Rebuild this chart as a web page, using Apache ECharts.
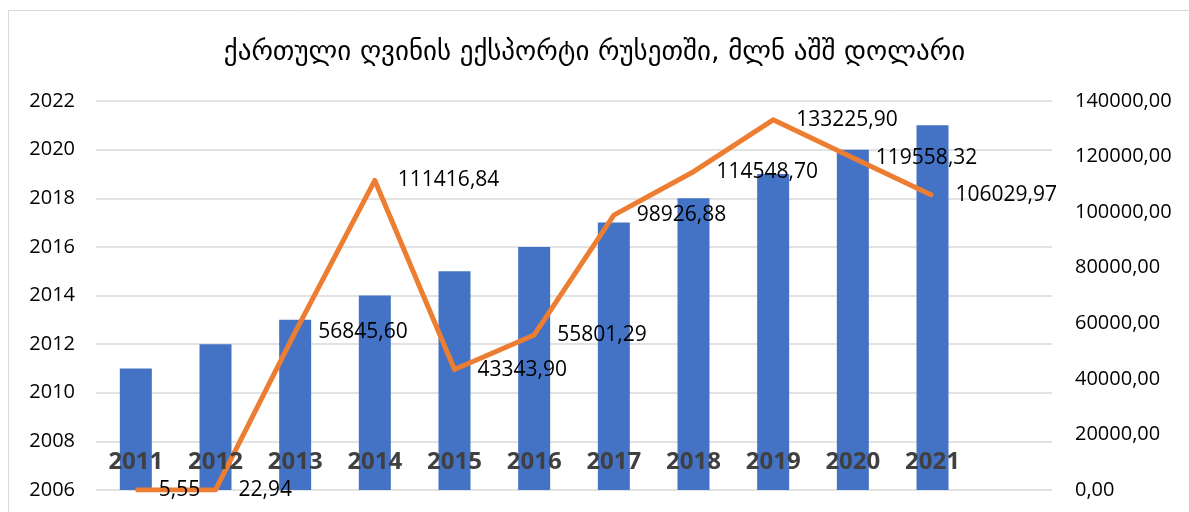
<!DOCTYPE html>
<html>
<head>
<meta charset="utf-8">
<script src="https://cdn.jsdelivr.net/npm/echarts@6/dist/echarts.min.js"></script>
<style>
  html, body { margin: 0; padding: 0; background: #fff; }
  #chart { width: 1189px; height: 512px; }
</style>
</head>
<body>
<div id="chart"></div>
<script>
// წლები (ბოლო ცარიელი კატეგორია, როგორც ორიგინალში)
var years = ['2011', '2012', '2013', '2014', '2015', '2016', '2017', '2018', '2019', '2020', '2021', ''];
var yearBars = [2011, 2012, 2013, 2014, 2015, 2016, 2017, 2018, 2019, 2020, 2021, null];
var exportValues = [5.55, 22.94, 56845.60, 111416.84, 43343.90, 55801.29, 98926.88, 114548.70, 133225.90, 119558.32, 106029.97, null];

var fmt = function (v) { return v.toFixed(2).replace('.', ','); };

var chart = echarts.init(document.getElementById('chart'));

var option = {
  animation: false,
  title: {
    text: 'ქართული ღვინის ექსპორტი რუსეთში, მლნ აშშ დოლარი',
    left: 'center',
    top: 34,
    textStyle: { fontFamily: 'DejaVu Sans', fontWeight: 'normal', fontSize: 27, color: '#000' }
  },
  graphic: [{
    type: 'rect',
    shape: { x: 8.5, y: 10.5, width: 1200, height: 600 },
    style: { fill: 'none', stroke: '#d9d9d9', lineWidth: 1 },
    silent: true
  }],
  grid: { left: 96, right: 137, top: 101, bottom: 22 },
  xAxis: {
    type: 'category',
    data: years,
    z: 10,
    axisLine: { show: false },
    axisTick: { show: false },
    axisLabel: {
      margin: -28,
      verticalAlign: 'middle',
      fontFamily: 'Open Sans',
      fontWeight: 'bold',
      fontSize: 24,
      color: '#404040'
    }
  },
  yAxis: [{
    type: 'value',
    min: 2006,
    max: 2022,
    interval: 2,
    axisLabel: { margin: 21, fontFamily: 'Open Sans', fontSize: 20, color: '#000', formatter: function (v) { return String(v); } },
    splitLine: { lineStyle: { color: '#d9d9d9', width: 1.5 } }
  }, {
    type: 'value',
    min: 0,
    max: 140000,
    interval: 20000,
    axisLabel: { margin: 23, fontFamily: 'Open Sans', fontSize: 20, color: '#000', formatter: fmt },
    splitLine: { show: false }
  }],
  series: [{
    type: 'bar',
    data: yearBars,
    yAxisIndex: 0,
    barWidth: 32,
    itemStyle: { color: '#4472C4' }
  }, {
    type: 'line',
    data: exportValues,
    yAxisIndex: 1,
    z: 5,
    showSymbol: true,
    symbol: 'circle',
    symbolSize: 2,
    lineStyle: { color: '#ED7D31', width: 5, join: 'round' },
    itemStyle: { color: '#ED7D31' },
    label: {
      show: true,
      position: 'right',
      distance: 22,
      fontFamily: 'Open Sans',
      fontSize: 21,
      color: '#000',
      formatter: function (p) { return fmt(p.value); }
    }
  }]
};

chart.setOption(option);
</script>
</body>
</html>
